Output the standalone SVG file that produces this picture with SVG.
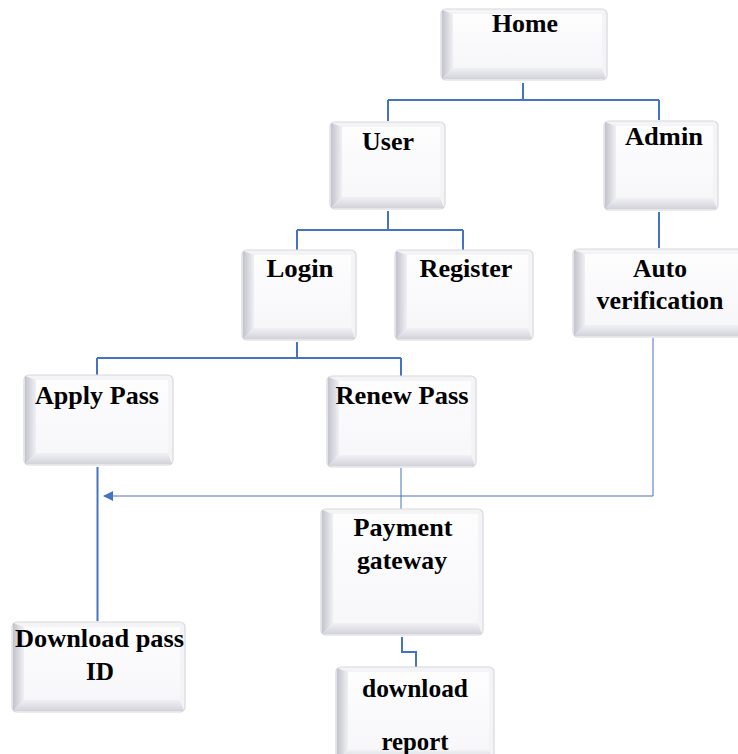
<svg xmlns="http://www.w3.org/2000/svg" width="738" height="754" viewBox="0 0 738 754">
<defs>
<linearGradient id="gl" x1="0" y1="0" x2="1" y2="0"><stop offset="0" stop-color="#c2c3cc"/><stop offset="1" stop-color="#f0f0f4"/></linearGradient>
<linearGradient id="gb" x1="0" y1="0" x2="0" y2="1"><stop offset="0" stop-color="#f1f1f5"/><stop offset="1" stop-color="#d2d3da"/></linearGradient>
<linearGradient id="gf" x1="0" y1="0" x2="0" y2="1"><stop offset="0" stop-color="#fdfdfe"/><stop offset="1" stop-color="#f7f7fa"/></linearGradient>
<marker id="ah" viewBox="0 0 10 10" refX="9" refY="5" markerWidth="10" markerHeight="10" markerUnits="userSpaceOnUse" orient="auto"><path d="M0,0 L10,5 L0,10 z" fill="#4472c4"/></marker>
<style>
.o{fill:#f4f4f7;stroke:#d8d8de;stroke-width:1.2}
.bl{fill:url(#gl)}
.bb{fill:url(#gb)}
.f{fill:url(#gf)}
text{font-family:"Liberation Serif","Times New Roman",serif;font-weight:bold;font-size:24.5px;fill:#000;text-anchor:middle}
.c{fill:none;stroke:#4472c4;stroke-width:2}
.t{fill:none;stroke:#4472c4;stroke-width:1}
</style>
</defs>
<rect width="738" height="754" fill="#fff"/>
<g id="connectors">
<path class="c" d="M523,83 V100 M388,100 H659 M388,100 V121 M659,100 V120"/>
<path class="c" d="M388,211 V230 M297,230 H463 M297,230 V250 M463,230 V250"/>
<path class="c" d="M659,212 V248"/>
<path class="c" d="M297,342 V358 M97,358 H401 M97,358 V375 M401,358 V376"/>
<path class="c" d="M97.5,467 V621"/>
<path class="t" d="M653,338 V496 H104" marker-end="url(#ah)"/>
<path class="t" d="M401,468 V509"/>
<path class="c" d="M402,637 V652 H416 V667"/>
</g>
<g id="home"><rect class="o" x="441" y="9" width="166" height="71" rx="5"/><polygon class="bl" points="442,10 453,14 453,68 442,79"/><polygon class="bb" points="442,79 453,68 602,68 606,79"/><rect class="f" x="453" y="14" width="149" height="54"/><text x="525" y="32" textLength="66" lengthAdjust="spacingAndGlyphs">Home</text></g>
<g id="user"><rect class="o" x="330" y="122" width="115" height="87" rx="5"/><polygon class="bl" points="331,123 342,127 342,197 331,208"/><polygon class="bb" points="331,208 342,197 440,197 444,208"/><rect class="f" x="342" y="127" width="98" height="70"/><text x="388" y="150" textLength="52" lengthAdjust="spacingAndGlyphs">User</text></g>
<g id="admin"><rect class="o" x="604" y="121" width="114" height="89" rx="5"/><polygon class="bl" points="605,122 616,126 616,198 605,209"/><polygon class="bb" points="605,209 616,198 713,198 717,209"/><rect class="f" x="616" y="126" width="97" height="72"/><text x="664" y="145" textLength="78" lengthAdjust="spacingAndGlyphs">Admin</text></g>
<g id="login"><rect class="o" x="242" y="250" width="114" height="90" rx="5"/><polygon class="bl" points="243,251 254,255 254,328 243,339"/><polygon class="bb" points="243,339 254,328 351,328 355,339"/><rect class="f" x="254" y="255" width="97" height="73"/><text x="300" y="277" textLength="67" lengthAdjust="spacingAndGlyphs">Login</text></g>
<g id="register"><rect class="o" x="395" y="250" width="138" height="90" rx="5"/><polygon class="bl" points="396,251 407,255 407,328 396,339"/><polygon class="bb" points="396,339 407,328 528,328 532,339"/><rect class="f" x="407" y="255" width="121" height="73"/><text x="466" y="277" textLength="93" lengthAdjust="spacingAndGlyphs">Register</text></g>
<g id="auto-verification"><rect class="o" x="573" y="249" width="170" height="88" rx="5"/><polygon class="bl" points="574,250 585,254 585,325 574,336"/><polygon class="bb" points="574,336 585,325 738,325 742,336"/><rect class="f" x="585" y="254" width="153" height="71"/><text x="660" y="277" textLength="54" lengthAdjust="spacingAndGlyphs">Auto</text><text x="660" y="309" textLength="127" lengthAdjust="spacingAndGlyphs">verification</text></g>
<g id="apply-pass"><rect class="o" x="24" y="375" width="149" height="90" rx="5"/><polygon class="bl" points="25,376 36,380 36,453 25,464"/><polygon class="bb" points="25,464 36,453 168,453 172,464"/><rect class="f" x="36" y="380" width="132" height="73"/><text x="97" y="404" textLength="124" lengthAdjust="spacingAndGlyphs">Apply Pass</text></g>
<g id="renew-pass"><rect class="o" x="327" y="376" width="149" height="91" rx="5"/><polygon class="bl" points="328,377 339,381 339,455 328,466"/><polygon class="bb" points="328,466 339,455 471,455 475,466"/><rect class="f" x="339" y="381" width="132" height="74"/><text x="402" y="404" textLength="133" lengthAdjust="spacingAndGlyphs">Renew Pass</text></g>
<g id="payment-gateway"><rect class="o" x="321" y="509" width="162" height="126" rx="5"/><polygon class="bl" points="322,510 333,514 333,623 322,634"/><polygon class="bb" points="322,634 333,623 478,623 482,634"/><rect class="f" x="333" y="514" width="145" height="109"/><text x="403" y="536" textLength="99" lengthAdjust="spacingAndGlyphs">Payment</text><text x="402" y="569" textLength="90" lengthAdjust="spacingAndGlyphs">gateway</text></g>
<g id="download-pass-id"><rect class="o" x="12" y="622" width="173" height="90" rx="5"/><polygon class="bl" points="13,623 24,627 24,700 13,711"/><polygon class="bb" points="13,711 24,700 180,700 184,711"/><rect class="f" x="24" y="627" width="156" height="73"/><text x="99.5" y="647" textLength="169" lengthAdjust="spacingAndGlyphs">Download pass</text><text x="100" y="680" textLength="28" lengthAdjust="spacingAndGlyphs">ID</text></g>
<g id="download-report"><rect class="o" x="336" y="667" width="158" height="95" rx="5"/><polygon class="bl" points="337,668 348,672 348,750 337,761"/><polygon class="bb" points="337,761 348,750 489,750 493,761"/><rect class="f" x="348" y="672" width="141" height="78"/><text x="415" y="697" textLength="106" lengthAdjust="spacingAndGlyphs">download</text><text x="415" y="750" textLength="67" lengthAdjust="spacingAndGlyphs">report</text></g>
</svg>
